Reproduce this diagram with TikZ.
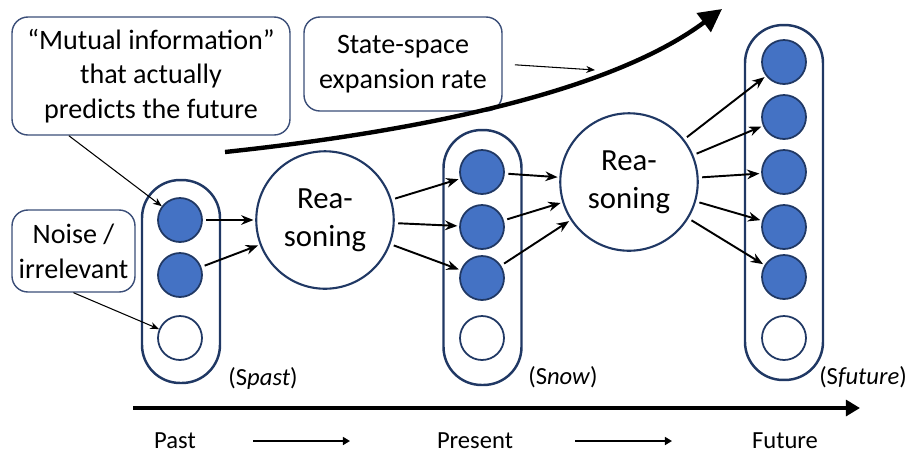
\documentclass[tikz,border=0pt]{standalone}
\usepackage{fontspec}
\setmainfont{Carlito}
\usetikzlibrary{arrows.meta, calc}
\definecolor{srnavy}{HTML}{203864}
\definecolor{srblue}{HTML}{4472C4}
\definecolor{srline}{HTML}{3B4E78}

\begin{document}
\begin{tikzpicture}[x=0.02cm, y=-0.02cm, font=\fontsize{16}{19.8}\selectfont,
    callout/.style={draw=srline, line width=0.8pt, rounded corners=9pt, align=center, inner sep=0pt},
    capsule/.style={draw=srnavy, line width=1.4pt, rounded corners=0.76cm, minimum width=1.56cm},
    state/.style={circle, draw=srnavy, line width=1pt, fill=srblue, minimum size=0.88cm, inner sep=0pt},
    idle/.style={state, fill=white},
    reason/.style={circle, draw=srnavy, line width=1.2pt, minimum size=2.75cm, inner sep=0pt,
                   align=center, font=\fontsize{17.5}{21.5}\selectfont},
    flow/.style={-{Stealth[length=7pt,width=5.5pt]}, line width=1.1pt, shorten <=2pt, shorten >=1pt},
    pointer/.style={-{Stealth[length=5pt,width=4pt]}, line width=0.6pt},
    setlabel/.style={font=\fontsize{14}{16}\selectfont},
  ]
    \useasboundingbox (0,0) rectangle (907,458);

    % callouts
    \node[callout, minimum width=5.56cm, minimum height=2.36cm] (mi) at (151,76)
      {“Mutual information”\\that actually\\predicts the future};
    \node[callout, minimum width=3.96cm, minimum height=1.88cm] (ss) at (403,64)
      {State-space\\expansion rate};
    \node[callout, minimum width=2.46cm, minimum height=1.64cm] (noise) at (73.5,251)
      {Noise /\\irrelevant};

    % state sets
    \node[capsule, minimum height=4.06cm] (cpast) at (181,281.5) {};
    \node[capsule, minimum height=5.1cm] (cnow) at (482.5,257.5) {};
    \node[capsule, minimum height=7.1cm] (cfut) at (784,202.5) {};

    \foreach \i/\y in {1/220, 2/275}
      \node[state] (p\i) at (180,\y) {};
    \node[idle] (p3) at (180,338) {};
    \foreach \i/\y in {1/172, 2/227, 3/278}
      \node[state] (n\i) at (482,\y) {};
    \node[idle] (n4) at (482,338) {};
    \foreach \i/\y in {1/62, 2/117, 3/172, 4/227, 5/277}
      \node[state] (f\i) at (784,\y) {};
    \node[idle] (f6) at (784,338) {};

    \node[setlabel] (lpast) at (263,378) {(S\textit{past})};
    \node[setlabel] (lnow) at (563,377) {(S\textit{now})};
    \node[setlabel] (lfut) at (863,377) {(S\textit{future})};

    % reasoning steps
    \node[reason] (r1) at (325,220) {Rea-\\soning};
    \node[reason] (r2) at (629,182) {Rea-\\soning};

    \draw[flow] (p1) -- (r1);
    \draw[flow] (p2) -- (r1);
    \foreach \i in {1,2,3} {
      \draw[flow] (r1) -- (n\i);
      \draw[flow] (n\i) -- (r2);
    }
    \foreach \i in {1,...,5}
      \draw[flow] (r2) -- (f\i);

    % callout pointers
    \coordinate (sspt) at (595,70);
    \draw[pointer] (mi.216) -- (p1);
    \draw[pointer] (noise.south) -- (p3);
    \draw[pointer, shorten <=7pt] (ss.east) -- (sspt);

    % expansion curve
    \coordinate (g0) at (225,152);
    \coordinate (g1) at (722,9);
    \draw[line width=2.5pt, -{Triangle[length=13pt,width=13pt]}]
      (g0) .. controls (450,128) and (620,85) .. (g1);

    % time axis
    \coordinate (ax0) at (133,408);
    \coordinate (ax1) at (860,408);
    \draw[line width=2.2pt, -{Triangle[length=8pt,width=9pt]}] (ax0) -- (ax1);

    \node[setlabel] (tpast) at (175,441) {Past};
    \node[setlabel] (tnow) at (475,441) {Present};
    \node[setlabel] (tfut) at (785,441) {Future};
    \coordinate (s0) at (253,441);
    \coordinate (s1) at (350,441);
    \coordinate (s2) at (575,441);
    \coordinate (s3) at (672,441);
    \draw[line width=1.1pt, -{Triangle[length=4pt,width=4.5pt]}] (s0) -- (s1);
    \draw[line width=1.1pt, -{Triangle[length=4pt,width=4.5pt]}] (s2) -- (s3);
  \end{tikzpicture}
\end{document}
